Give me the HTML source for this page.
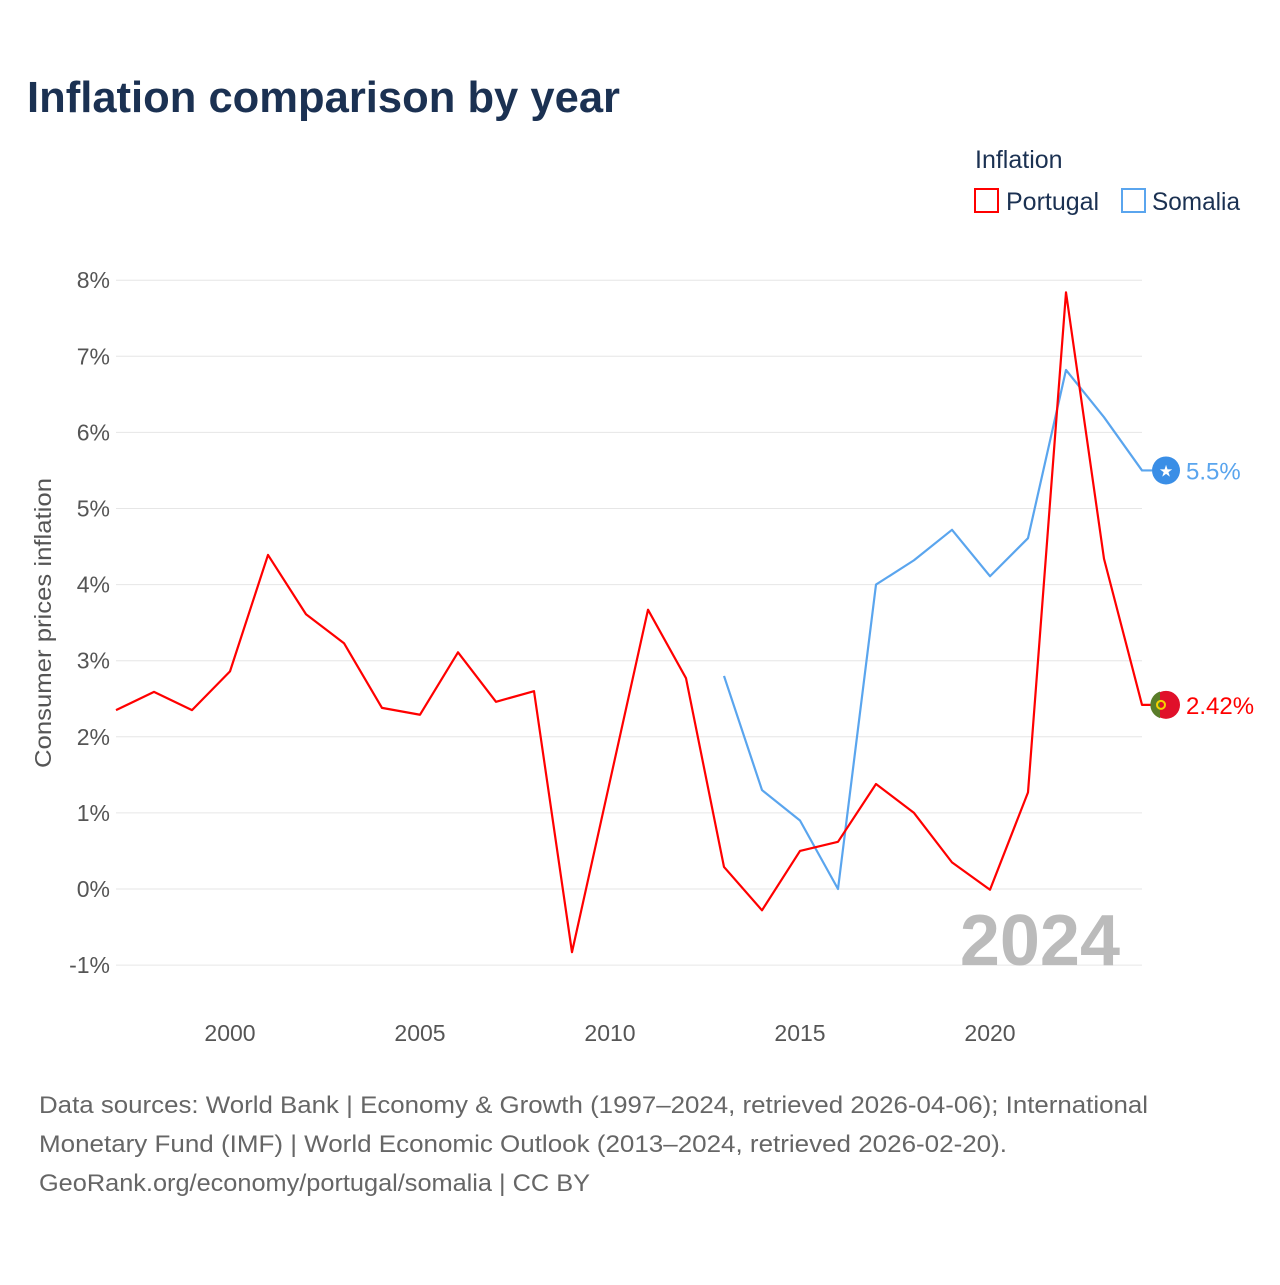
<!DOCTYPE html>
<html><head><meta charset="utf-8">
<style>
body{margin:0;background:#fff;font-family:"Liberation Sans",sans-serif;}
svg text{font-family:"Liberation Sans",sans-serif;}
</style></head>
<body>
<svg id="chart" width="1280" height="1280" viewBox="0 0 1280 1280">
<rect width="1280" height="1280" fill="#fff"/>
<text x="27" y="112" font-size="44" font-weight="bold" fill="#1b3152" textLength="593" lengthAdjust="spacingAndGlyphs">Inflation comparison by year</text>
<g>
<text x="975" y="168" font-size="25" fill="#1b3152">Inflation</text>
<g><rect x="975" y="189" width="23" height="23" fill="none" stroke="#f00" stroke-width="2"/><text x="1006" y="210" font-size="25" fill="#1b3152">Portugal</text></g>
<g><rect x="1122" y="189" width="23" height="23" fill="none" stroke="#5aa5ee" stroke-width="2"/><text x="1152" y="210" font-size="25" fill="#1b3152" textLength="88" lengthAdjust="spacingAndGlyphs">Somalia</text></g>
</g>
<g id="grid"></g>
<g id="yticks"></g>
<g id="xticks"></g>
<text transform="translate(51,623) rotate(-90)" text-anchor="middle" font-size="23" fill="#555" textLength="290" lengthAdjust="spacingAndGlyphs">Consumer prices inflation</text>
<text x="1120" y="965" text-anchor="end" font-size="72" font-weight="bold" fill="#bbb">2024</text>
<g id="series"></g>
<g font-size="24" fill="#666">
<text x="39" y="1113" textLength="1109" lengthAdjust="spacingAndGlyphs">Data sources: World Bank | Economy &amp; Growth (1997–2024, retrieved 2026-04-06); International</text>
<text x="39" y="1152" textLength="968" lengthAdjust="spacingAndGlyphs">Monetary Fund (IMF) | World Economic Outlook (2013–2024, retrieved 2026-02-20).</text>
<text x="39" y="1191" textLength="551" lengthAdjust="spacingAndGlyphs">GeoRank.org/economy/portugal/somalia | CC BY</text>
</g>
</svg>
<script>
const portugalYears=[1997,1998,1999,2000,2001,2002,2003,2004,2005,2006,2007,2008,2009,2010,2011,2012,2013,2014,2015,2016,2017,2018,2019,2020,2021,2022,2023,2024];
const portugalValues=[2.35,2.59,2.35,2.86,4.39,3.61,3.23,2.38,2.29,3.11,2.46,2.6,-0.83,1.42,3.67,2.77,0.29,-0.28,0.5,0.62,1.38,1.0,0.35,-0.01,1.27,7.84,4.34,2.42];
const somaliaYears=[2013,2014,2015,2016,2017,2018,2019,2020,2021,2022,2023,2024];
const somaliaValues=[2.8,1.3,0.9,0.0,4.0,4.32,4.72,4.11,4.61,6.82,6.2,5.5];
const yTicks=[-1,0,1,2,3,4,5,6,7,8];
const xTicks=[2000,2005,2010,2015,2020];
const NS="http://www.w3.org/2000/svg";
const x=v=>116+(v-1997)*38;
const y=v=>889-v*76.1;
function mk(t,a,p){const e=document.createElementNS(NS,t);for(const k in a)e.setAttribute(k,a[k]);p.appendChild(e);return e;}
const grid=document.getElementById('grid'),yt=document.getElementById('yticks'),xt=document.getElementById('xticks'),ser=document.getElementById('series');
yTicks.forEach(v=>{
 const l=mk('line',{x1:116,x2:1142,y1:y(v),y2:y(v),stroke:'#e6e6e6','stroke-width':1},grid);
 
 
 const t=mk('text',{x:110,y:y(v)+8,'text-anchor':'end','font-size':23,fill:'#555'},yt);
 t.textContent=v+'%';
 
 
});
xTicks.forEach(v=>{
 const t=mk('text',{x:x(v),y:1041,'text-anchor':'middle','font-size':23,fill:'#555'},xt);
 t.textContent=v;
 
 
});
function line(years,vals,color,mcolor,name,label){
 let d=years.map((yr,i)=>(i?'L':'M')+x(yr)+','+y(vals[i])).join(' ');
 const last=vals[vals.length-1];
 d+=' L1152,'+y(last);
 const p=mk('path',{d:d,fill:'none',stroke:color,'stroke-width':2.2,'stroke-linejoin':'round'},ser);
 
 
 const c=mk('circle',{cx:1166,cy:y(last),r:14,fill:mcolor},ser);
 
 
 const t=mk('text',{x:1186,y:y(last)+9,'font-size':24,fill:color},ser);
 t.textContent=label;
 
 
}
line(somaliaYears,somaliaValues,'#5aa5ee','#3a8ee6','somalia','5.5%');
line(portugalYears,portugalValues,'#f00','#e0102a','portugal','2.42%');
const yp=y(2.42);
mk('path',{d:`M1160,${yp-13.3} A14,14 0 0 0 1160,${yp+13.3} Z`,fill:'#5a7d2a'},ser);
mk('circle',{cx:1161,cy:yp,r:4,fill:'none',stroke:'#f5d300','stroke-width':2},ser);
const ys=y(5.5);
const st=mk('text',{x:1166,y:ys+6,'text-anchor':'middle','font-size':16,fill:'#fff'},ser);
st.textContent='★';
</script>
</body></html>
